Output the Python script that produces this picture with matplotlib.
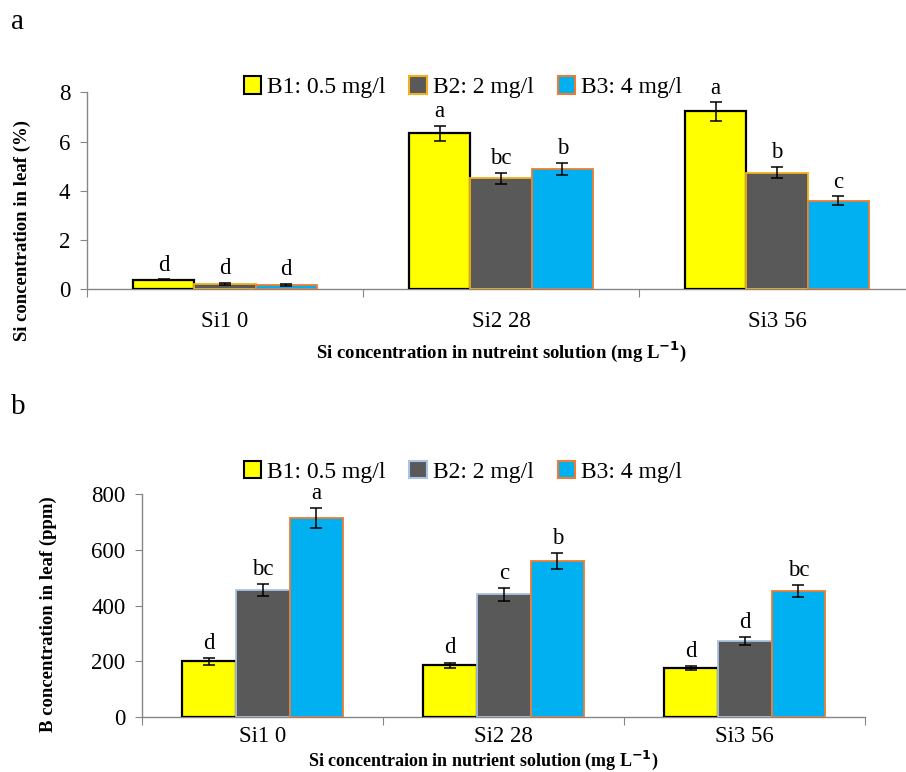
import numpy as np
import matplotlib
matplotlib.use("Agg")
import matplotlib.pyplot as plt
from matplotlib.patches import Patch

plt.rcParams['font.family'] = ['Liberation Serif', 'DejaVu Serif']

categories = ['Si1 0', 'Si2 28', 'Si3 56']
series = ['B1: 0.5 mg/l', 'B2: 2 mg/l', 'B3: 4 mg/l']

# panel a: Si in leaf (%)
si_vals = [[0.38, 6.33, 7.22],
           [0.22, 4.51, 4.74],
           [0.18, 4.88, 3.59]]
si_err = [[0.02, 0.32, 0.37],
          [0.04, 0.23, 0.24],
          [0.03, 0.26, 0.18]]
si_letters = [['d', 'a', 'a'],
              ['d', 'bc', 'b'],
              ['d', 'b', 'c']]

# panel b: B in leaf (ppm)
b_vals = [[200, 187, 176],
          [456, 441, 272],
          [714, 560, 452]]
b_err = [[11, 9, 7],
         [22, 23, 14],
         [36, 28, 22]]
b_letters = [['d', 'd', 'd'],
             ['bc', 'c', 'd'],
             ['a', 'b', 'bc']]

fills = ['#FFFF00', '#595959', '#00B0F0']
edges_a = ['black', '#F2B01E', '#ED7D31']
edges_b = ['black', '#A9C4E4', '#ED7D31']
widths_a = [1.6, 1.3, 1.3]

FS = 16.5


def panel(ax, vals, errs, letters, edges, ymax, ystep, letter_off, xpad):
    x = np.arange(len(categories))
    w = 2 / 9
    for i in range(3):
        pos = x + (i - 1) * w
        ax.bar(pos, vals[i], w, color=fills[i], edgecolor=edges[i],
               linewidth=widths_a[i], zorder=3)
        ax.errorbar(pos, vals[i], yerr=errs[i], fmt='none', ecolor='black',
                    elinewidth=1.1, capsize=4, capthick=1.1, zorder=4)
        for p, v, e, t in zip(pos, vals[i], errs[i], letters[i]):
            ax.text(p, v + e + letter_off, t, ha='center', va='bottom',
                    fontsize=FS)
    ax.set_xlim(-0.5, len(categories) - 0.5)
    ax.set_ylim(0, ymax)
    ax.set_yticks(np.arange(0, ymax + 1e-9, ystep))
    ax.set_xticks(np.arange(-0.5, len(categories)), minor=False)
    ax.set_xticklabels([])
    ax.set_xticks(x, minor=True)
    ax.set_xticklabels(categories, minor=True, fontsize=FS)
    ax.tick_params(axis='x', which='minor', length=0, pad=xpad)
    ax.tick_params(axis='x', which='major', length=6, color='#868686')
    ax.tick_params(axis='y', length=5, color='#868686', labelsize=FS, pad=7)
    for s in ['top', 'right']:
        ax.spines[s].set_visible(False)
    for s in ['left', 'bottom']:
        ax.spines[s].set_color('#868686')
        ax.spines[s].set_linewidth(1.0)


fig = plt.figure(figsize=(9.06, 7.72), dpi=100)

ax1 = fig.add_axes([0.096, 0.6253, 0.914, 0.2552])
panel(ax1, si_vals, si_err, si_letters, edges_a, 8, 2, 0.15, 16)
ax1.set_ylabel('Si concentration in leaf (%)', fontsize=13.5, fontweight='bold')
ax1.yaxis.set_label_coords(-0.068, 0.3)
fig.text(0.553, 0.545, 'Si concentration in nutreint solution (mg L$^{\\mathbf{-1}}$)',
         ha='center', va='center', fontsize=13.5, fontweight='bold')
h1 = [Patch(facecolor=fills[i], edgecolor=edges_a[i], linewidth=1.5) for i in range(3)]
fig.legend(h1, series, ncol=3, loc='center', bbox_to_anchor=(0.511, 0.887),
           frameon=False, fontsize=17, handlelength=0.75, handleheight=0.75,
           handletextpad=0.25, columnspacing=1.0)
fig.text(0.012, 0.972, 'a', fontsize=21, va='center')

ax2 = fig.add_axes([0.157, 0.0709, 0.798, 0.2893])
panel(ax2, b_vals, b_err, b_letters, edges_b, 800, 200, 15, 6)
ax2.set_ylabel('B concentration in leaf (ppm)', fontsize=13.5, fontweight='bold')
ax2.yaxis.set_label_coords(-0.118, 0.46)
fig.text(0.533, 0.0075, 'Si concentraion in nutrient solution (mg L$^{\\mathbf{-1}}$)',
         ha='center', va='baseline', fontsize=13, fontweight='bold')
h2 = [Patch(facecolor=fills[i], edgecolor=edges_b[i], linewidth=1.5) for i in range(3)]
fig.legend(h2, series, ncol=3, loc='center', bbox_to_anchor=(0.511, 0.389),
           frameon=False, fontsize=17, handlelength=0.75, handleheight=0.75,
           handletextpad=0.25, columnspacing=1.0)
fig.text(0.012, 0.473, 'b', fontsize=21, va='center')

fig.savefig('out.png', dpi=100)
